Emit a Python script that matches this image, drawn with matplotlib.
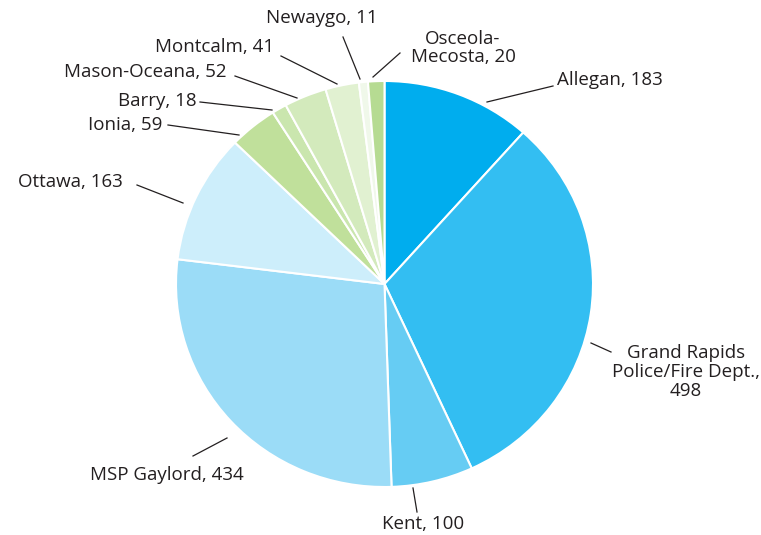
import matplotlib.pyplot as plt

plt.rcParams['font.family'] = ['Open Sans', 'DejaVu Sans']

# agencies, clockwise from 12 o'clock
agencies = ["Allegan", "Grand Rapids\nPolice/Fire Dept.,", "Kent", "MSP Gaylord", "Ottawa",
            "Ionia", "Barry", "Mason-Oceana", "Montcalm", "Newaygo", "Osceola-\nMecosta,"]
counts = [183, 498, 100, 434, 163, 59, 18, 52, 41, 11, 20]
colors = ["#00adee", "#33bef2", "#66ccf3", "#9bdcf7", "#cdeefb",
          "#c0e09b", "#cae6ae", "#d3eabc", "#e1f1d1", "#f0f8ea", "#b6db92"]

# label anchor (x, y px from top-left), alignment, leader line start and end
label_pos = [
    (557, 80, 'left', (487, 102), (553, 86)),
    (686, 372, 'center', (591, 343), (611, 352)),
    (423, 524, 'center', (413, 488), (417, 512)),
    (167, 475, 'center', (227, 438), (193, 456)),
    (123, 182, 'right', (183, 203), (137, 185)),
    (162, 125, 'right', (239, 135), (168, 125)),
    (197, 101, 'right', (272, 110), (200, 102)),
    (227, 72, 'right', (297, 98), (235, 76)),
    (274, 47, 'right', (337, 84), (281, 56)),
    (322, 18, 'center', (360, 79), (343, 37)),
    (463, 48, 'center', (373, 77), (400, 53)),
]

W, H = 761, 535
fig = plt.figure(figsize=(W / 100, H / 100), dpi=100)

# pie is slightly squashed vertically in the source (417 px wide, 406 px tall)
Rx, Ry = 208.5, 203
k = Rx / Ry
ax = fig.add_axes([0, 0, 1, 1])
wedges, _ = ax.pie(counts, colors=colors, startangle=90, counterclock=False,
                   center=(384.5, (H - 284) * k), radius=Rx,
                   wedgeprops=dict(edgecolor='white', linewidth=1.5))
ax.set_aspect('auto')
ax.set_xlim(0, W)
ax.set_ylim(0, H * k)
ax.axis('off')

# overlay in pixel coords (origin top-left) for labels and leader lines
ax_t = fig.add_axes([0, 0, 1, 1])
ax_t.set_xlim(0, W)
ax_t.set_ylim(H, 0)
ax_t.axis('off')

for name, n, (lx, ly, ha, (sx, sy), (ex, ey)) in zip(agencies, counts, label_pos):
    ax_t.plot([sx, ex], [sy, ey], color='#231f20', lw=0.9)
    if name.endswith(','):
        text = f"{name}\n{n}" if "Grand" in name else f"{name} {n}"
    else:
        text = f"{name}, {n}"
    ax_t.text(lx, ly, text, ha=ha, va='center', multialignment='center',
              fontsize=13.5, color='#231f20', linespacing=1.05)

fig.savefig("out.png", dpi=100)
